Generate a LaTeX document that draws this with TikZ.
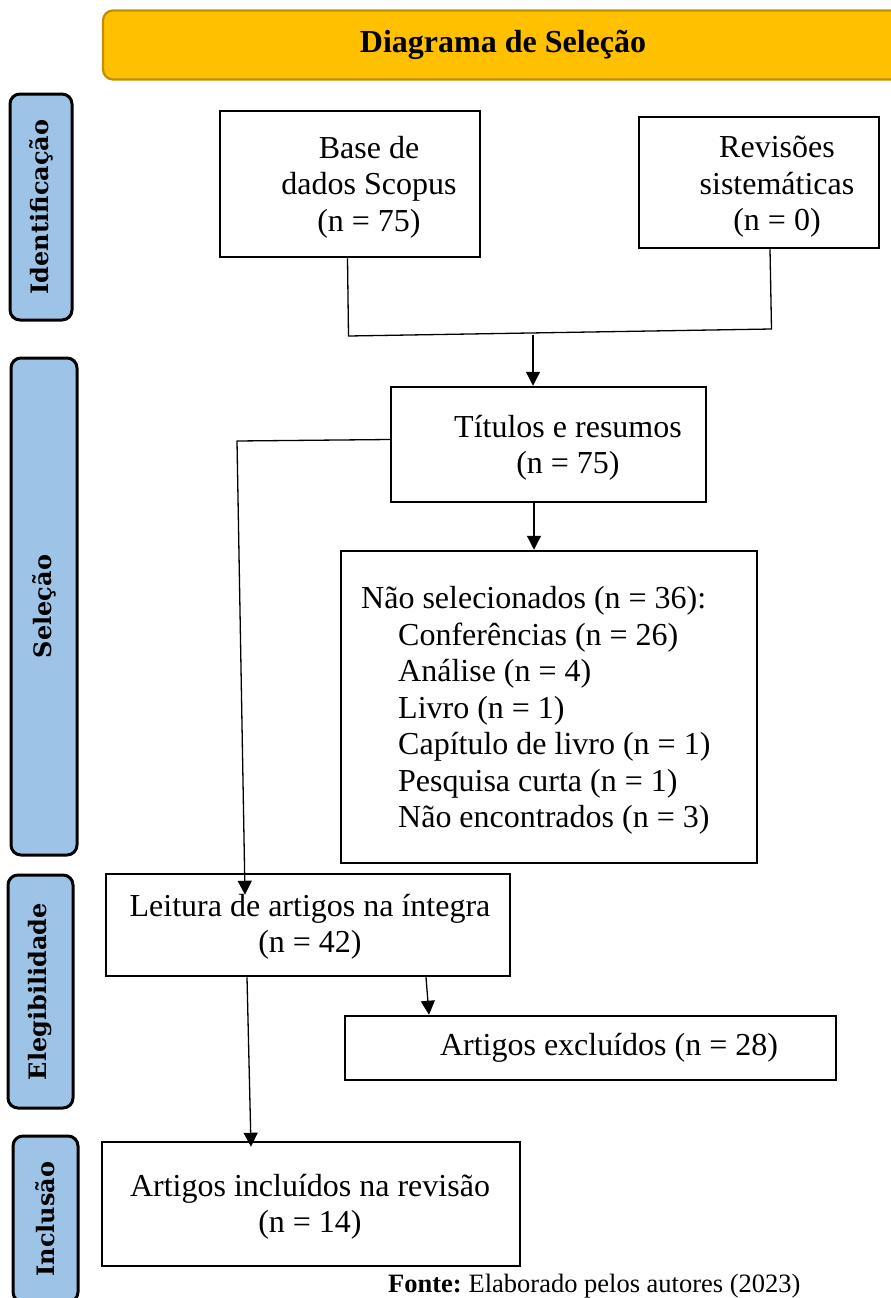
\documentclass[tikz,border=0pt]{standalone}
\usepackage{fontspec}
\setmainfont{Liberation Serif}
\newfontfamily\sidefont{DejaVu Serif}
\usetikzlibrary{arrows.meta}
\definecolor{titlegold}{RGB}{255,192,0}
\definecolor{goldborder}{RGB}{191,144,0}
\definecolor{sideblue}{RGB}{157,195,230}
\tikzset{
  box/.style={draw, line width=2.5pt, inner sep=0pt, rectangle},
  side/.style={draw, line width=3pt, fill=sideblue, rounded corners=10pt, inner sep=0pt,
    rotate=90, font=\sidefont\bfseries\fontsize{24}{28}\selectfont},
  txt/.style={align=center, inner sep=0pt, font=\fontsize{32}{36.5}\selectfont},
  conn/.style={line width=1.3pt},
  arr/.style={conn, -{Triangle[length=14pt,width=14pt]}},
}
\begin{document}
\begin{tikzpicture}[x=1pt, y=-1pt]
\useasboundingbox (0,0) rectangle (891,1298);
\clip (0,0) rectangle (891,1298);

% title bar
\node[draw=goldborder, line width=2.2pt, fill=titlegold, rounded corners=10pt,
      minimum width=800pt, minimum height=69pt, inner sep=0pt,
      font=\bfseries\fontsize{32}{36}\selectfont] (title) at (503,45) {Diagrama de Seleção};

% side bars
\node[side, minimum width=226pt, minimum height=62pt] (ident) at (41,207) {Identificação};
\node[side, minimum width=497pt, minimum height=66pt] (sel) at (44,606.5) {Seleção};
\node[side, minimum width=233pt, minimum height=65pt] (eleg) at (40.5,991.5) {Elegibilidade};
\node[side, minimum width=166pt, minimum height=65pt] (incl) at (45.5,1219) {Inclusão};

% boxes
\node[box, minimum width=260pt, minimum height=146pt] (base) at (350,184) {};
\node[box, minimum width=240pt, minimum height=131pt] (rev) at (759,182.5) {};
\node[box, minimum width=315pt, minimum height=115pt] (tit) at (548.5,444.5) {};
\node[box, minimum width=416pt, minimum height=312pt] (nao) at (549,707) {};
\node[box, minimum width=404pt, minimum height=102pt] (leit) at (308,925) {};
\node[box, minimum width=491pt, minimum height=64pt] (exc) at (590.5,1048) {};
\node[box, minimum width=418pt, minimum height=124pt] (inc) at (311,1204) {};

% texts
\node[txt] (basetxt) at (369,187) {Base de\\dados Scopus\\(n = 75)};
\node[txt] (revtxt) at (777,187) {Revisões\\sistemáticas\\(n = 0)};
\node[txt] (tittxt) at (568,448) {Títulos e resumos\\(n = 75)};
\node[txt, align=left, anchor=west] (naotxt) at (361,710.5) {Não selecionados (n = 36):\\
  \hspace*{37pt}Conferências (n = 26)\\
  \hspace*{37pt}Análise (n = 4)\\
  \hspace*{37pt}Livro (n = 1)\\
  \hspace*{37pt}Capítulo de livro (n = 1)\\
  \hspace*{37pt}Pesquisa curta (n = 1)\\
  \hspace*{37pt}Não encontrados (n = 3)};
\node[txt] (leittxt) at (310,927) {Leitura de artigos na íntegra\\(n = 42)};
\node[txt] (exctxt) at (609,1048) {Artigos excluídos (n = 28)};
\node[txt] (inctxt) at (310,1207) {Artigos incluídos na revisão\\(n = 14)};
\node[inner sep=0pt, anchor=base west, font=\fontsize{26.5}{30}\selectfont] (fonte) at (388,1292)
  {\textbf{Fonte:}\hspace{-2pt} Elaborado pelos autores (2023)};

% connectors
\coordinate (jl) at (348.5,336);
\coordinate (jr) at (771.5,329);
\coordinate (jm) at (533,335);
\coordinate (jt) at (237,441);
\draw[conn] ([xshift=-2.5pt]base.south) -- (jl) -- (jr) -- ([xshift=11pt]rev.south);
\draw[arr] (jm) -- (tit.north -| jm);
\draw[arr] ([xshift=-14.5pt]tit.south) -- ([xshift=-15pt]nao.north);
\draw[arr] ([yshift=5pt]tit.west) -- (jt) -- ([xshift=-63pt,yshift=-22pt]leit.north);
\draw[arr] ([xshift=118pt]leit.south) -- ([xshift=-161.5pt]exc.north);
\draw[arr] ([xshift=-61pt]leit.south) -- ([xshift=-60pt,yshift=-6pt]inc.north);
\end{tikzpicture}
\end{document}
